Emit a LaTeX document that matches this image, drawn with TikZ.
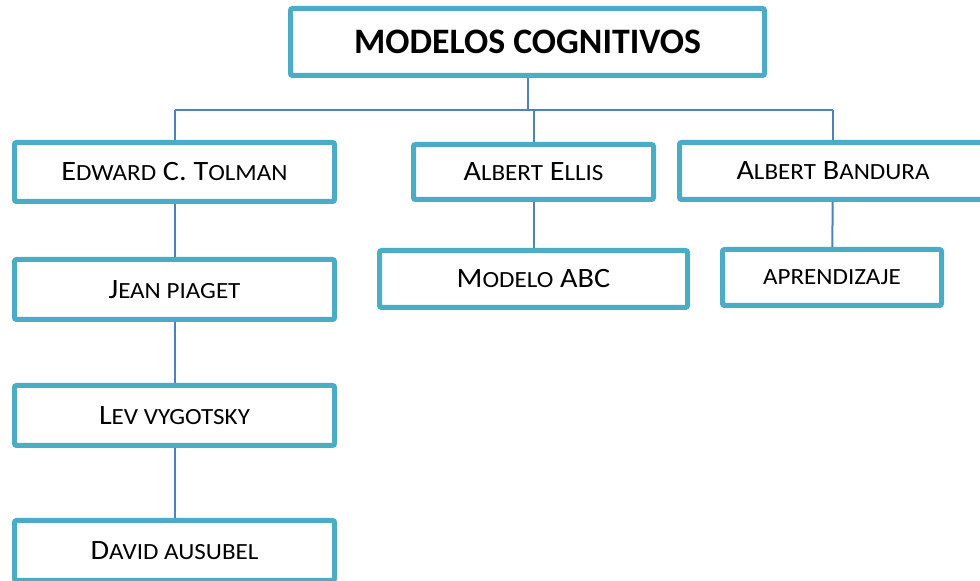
\documentclass[tikz,border=0pt]{standalone}
\usepackage{fontspec}
\setmainfont{Carlito}
\newfontfamily\hopfont[FakeStretch=1.08]{Carlito}
\definecolor{khung}{HTML}{4BACC6}
\definecolor{noi}{HTML}{4F81BD}
\newcommand{\nho}[1]{{\fontsize{11.6}{13}\selectfont #1}}
\begin{document}
\begin{tikzpicture}[x=.5pt,y=-.5pt,
	hop/.style={draw=khung,line width=2.5pt,fill=white,inner sep=0pt,rounded corners=1pt,
		font=\hopfont\fontsize{14}{16}\selectfont},
	day/.style={draw=noi,line width=1pt}]
	\useasboundingbox (0,0) rectangle (980,581);
	\clip (0,0) rectangle (980,581);
	\coordinate (truc) at (0,110);
	% cac duong noi
	\path
	(527.5,42) coordinate (pT)
	(174.5,172) coordinate (p1)
	(533.5,172) coordinate (p2)
	(833,171) coordinate (p3);
	\draw[day] (pT) -- (pT |- truc);
	\draw[day] (p1 |- truc) -- (p3 |- truc);
	\draw[day] (p1) -- (p1 |- truc);
	\draw[day] (p2) -- (p2 |- truc);
	\draw[day] (p3) -- (p3 |- truc);
	% cac hop
	\path
	(pT) node[hop,minimum width=237pt,minimum height=33.5pt,
		font=\bfseries\fontsize{17.9}{20}\selectfont] (tieude) {MODELOS COGNITIVOS}
	(p1) node[hop,minimum width=160pt,minimum height=29.5pt] (tolman)
		{E\nho{DWARD} C. T\nho{OLMAN}}
	(p2) node[hop,minimum width=120pt,minimum height=27.5pt] (ellis)
		{A\nho{LBERT} E\nho{LLIS}}
	(p3) node[hop,minimum width=153.5pt,minimum height=28.5pt] (bandura)
		{A\nho{LBERT} B\nho{ANDURA}}
	(174.5,289.5) node[hop,minimum width=160pt,minimum height=30pt] (piaget)
		{J\nho{EAN PIAGET}}
	(174.5,415.5) node[hop,minimum width=160pt,minimum height=30pt] (vygotsky)
		{L\nho{EV VYGOTSKY}}
	(174.5,550.5) node[hop,minimum width=160pt,minimum height=30pt] (ausubel)
		{D\nho{AVID AUSUBEL}}
	(533.5,279) node[hop,minimum width=154pt,minimum height=28.5pt] (abc)
		{M\nho{ODELO} ABC}
	(832,277.5) node[hop,minimum width=109.5pt,minimum height=28pt] (aprend)
		{\nho{APRENDIZAJE}};
	\draw[day] (tolman) -- (piaget);
	\draw[day] (piaget) -- (vygotsky);
	\draw[day] (vygotsky) -- (ausubel);
	\draw[day] (ellis) -- (abc);
	\draw[day] (bandura) -- (aprend);
\end{tikzpicture}
\end{document}
